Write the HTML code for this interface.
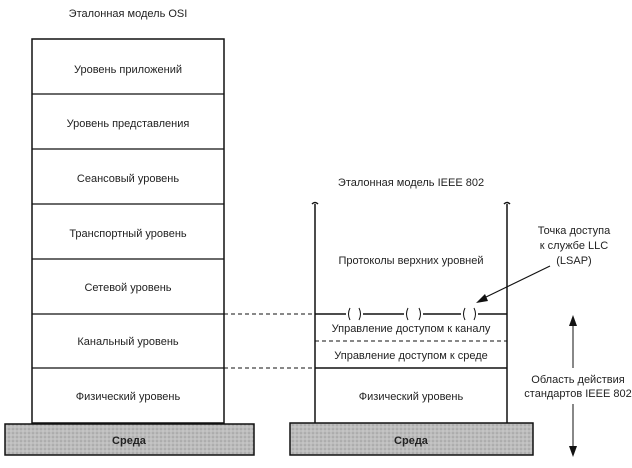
<!DOCTYPE html>
<html><head><meta charset="utf-8">
<style>
html,body{margin:0;padding:0;background:#fff;}
svg{display:block;}
text{font-family:"Liberation Sans",sans-serif;font-size:11px;fill:#222;}
</style></head>
<body>
<svg width="632" height="468" viewBox="0 0 632 468" xmlns="http://www.w3.org/2000/svg">
<defs>
<pattern id="hatch" width="4" height="4" patternUnits="userSpaceOnUse">
<rect width="4" height="4" fill="#bdbdbd"/>
<circle cx="1" cy="1" r="0.8" fill="#999"/>
<circle cx="3" cy="3" r="0.6" fill="#d8d8d8"/>
</pattern>
</defs>
<text x="128" y="17" text-anchor="middle">Эталонная модель OSI</text>
<rect x="32" y="39" width="192" height="384" fill="none" stroke="#111" stroke-width="1.5"/>
<g stroke="#111" stroke-width="1.3">
<line x1="32" y1="94" x2="224" y2="94"/>
<line x1="32" y1="149" x2="224" y2="149"/>
<line x1="32" y1="204" x2="224" y2="204"/>
<line x1="32" y1="259" x2="224" y2="259"/>
<line x1="32" y1="314" x2="224" y2="314"/>
<line x1="32" y1="368" x2="224" y2="368"/>
</g>
<g text-anchor="middle">
<text x="128" y="73">Уровень приложений</text>
<text x="128" y="127">Уровень представления</text>
<text x="128" y="182">Сеансовый уровень</text>
<text x="128" y="237">Транспортный уровень</text>
<text x="128" y="291">Сетевой уровень</text>
<text x="128" y="345">Канальный уровень</text>
<text x="128" y="400">Физический уровень</text>
</g>
<rect x="5" y="424" width="249" height="31" fill="url(#hatch)" stroke="#111" stroke-width="1.5"/>
<text x="129" y="444" text-anchor="middle" style="font-weight:bold">Среда</text>

<text x="411" y="186" text-anchor="middle">Эталонная модель IEEE 802</text>
<g stroke="#111" stroke-width="1.5" fill="none">
<line x1="315" y1="204" x2="315" y2="423"/>
<line x1="507" y1="204" x2="507" y2="423"/>
<path d="M312 204 q3 -3 6 0"/>
<path d="M504 204 q3 -3 6 0"/>
<line x1="315" y1="314" x2="346" y2="314"/>
<line x1="363" y1="314" x2="404" y2="314"/>
<line x1="423" y1="314" x2="461" y2="314"/>
<line x1="478" y1="314" x2="507" y2="314"/>
<line x1="315" y1="368" x2="507" y2="368"/>
</g>
<g fill="none" stroke="#111" stroke-width="1">
<path d="M350 308 q-3 6 0 12"/><path d="M359 308 q3 6 0 12"/>
<path d="M408 308 q-3 6 0 12"/><path d="M419 308 q3 6 0 12"/>
<path d="M465 308 q-3 6 0 12"/><path d="M474 308 q3 6 0 12"/>
</g>
<g stroke="#111" stroke-width="1" stroke-dasharray="4,3">
<line x1="224" y1="314" x2="315" y2="314"/>
<line x1="224" y1="368" x2="315" y2="368"/>
<line x1="315" y1="341" x2="507" y2="341"/>
</g>
<g text-anchor="middle">
<text x="411" y="264">Протоколы верхних уровней</text>
<text x="411" y="332">Управление доступом к каналу</text>
<text x="411" y="359">Управление доступом к среде</text>
<text x="411" y="400">Физический уровень</text>
</g>
<rect x="290" y="423" width="243" height="32" fill="url(#hatch)" stroke="#111" stroke-width="1.5"/>
<text x="411" y="444" text-anchor="middle" style="font-weight:bold">Среда</text>

<g text-anchor="middle">
<text x="574" y="234">Точка доступа</text>
<text x="574" y="249">к службе LLC</text>
<text x="574" y="264">(LSAP)</text>
<text x="578" y="383">Область действия</text>
<text x="578" y="397">стандартов IEEE 802</text>
</g>
<line x1="550" y1="266" x2="484" y2="298" stroke="#111" stroke-width="1.2"/>
<polygon points="476,303 485,294 488,301" fill="#111"/>
<line x1="573" y1="322" x2="573" y2="368" stroke="#111" stroke-width="1"/>
<line x1="573" y1="404" x2="573" y2="450" stroke="#111" stroke-width="1"/>
<polygon points="573,315 569,326 577,326" fill="#111"/>
<polygon points="573,457 569,446 577,446" fill="#111"/>
</svg>
</body></html>
